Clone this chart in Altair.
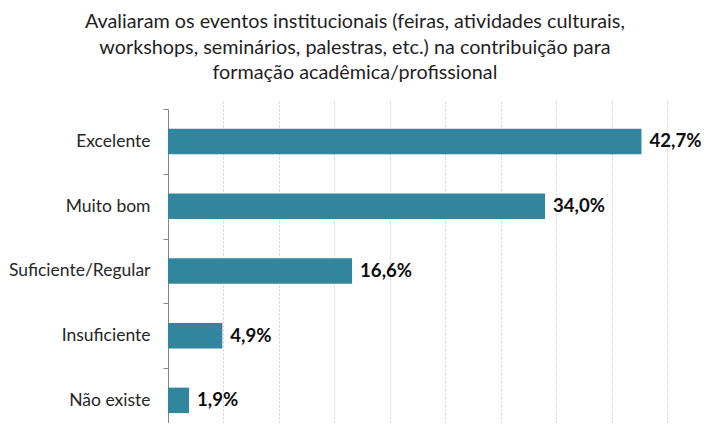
import altair as alt
import pandas as pd

categories = ["Excelente", "Muito bom", "Suficiente/Regular", "Insuficiente", "Não existe"]
values = [42.7, 34.0, 16.6, 4.9, 1.9]
labels = ["42,7%", "34,0%", "16,6%", "4,9%", "1,9%"]
title_lines = [
    "Avaliaram os eventos institucionais (feiras, atividades culturais,",
    "workshops, seminários, palestras, etc.) na contribuição para",
    "formação acadêmica/profissional",
]
grid_values = [5, 10, 15, 20, 25, 30, 35, 40, 45]

df = pd.DataFrame({"cat": categories, "val": values, "label": labels})

STEP = 64.75
FONT = "Lato"

y_enc = alt.Y(
    "cat:N",
    sort=categories,
    title=None,
    scale=alt.Scale(paddingInner=0, paddingOuter=0, range=[0, STEP * 5]),
    axis=alt.Axis(
        tickBand="extent",
        domainColor="#868686",
        tickColor="#868686",
        tickSize=5,
        labelPadding=13,
        labelFont=FONT,
        labelFontSize=17.5,
        labelColor="#262626",
        labelLimit=300,
        grid=False,
    ),
)
x_enc = alt.X(
    "val:Q",
    title=None,
    scale=alt.Scale(domain=[0, 45], nice=False, zero=True),
    axis=alt.Axis(
        values=grid_values,
        labels=False,
        ticks=False,
        domain=False,
        grid=True,
        gridColor="#cfcfcf",
        gridDash=[2, 2],
        gridWidth=1,
    ),
)

base = alt.Chart(df).encode(x=x_enc, y=y_enc)
bars = base.mark_bar(color="#31859C", size=25.5)
text = base.mark_text(
    align="left", baseline="middle", dx=8, font=FONT, fontWeight="bold",
    fontSize=18.6, color="#0d0d0d"
).encode(text="label:N")

chart = (
    alt.layer(bars, text)
    .properties(
        width=499,
        height=314,
        title=alt.TitleParams(
            title_lines,
            anchor="middle",
            frame="bounds",
            font=FONT,
            fontSize=19.8,
            fontWeight="normal",
            color="#1f1f1f",
            lineHeight=25.5,
            offset=17,
        ),
        padding={"left": 160, "top": 101, "right": 34, "bottom": 0},
        autosize=alt.AutoSizeParams(type="none"),
    )
    .configure_view(stroke=None)
)

chart.save("out.html", embed_options={"renderer": "svg", "actions": False})
